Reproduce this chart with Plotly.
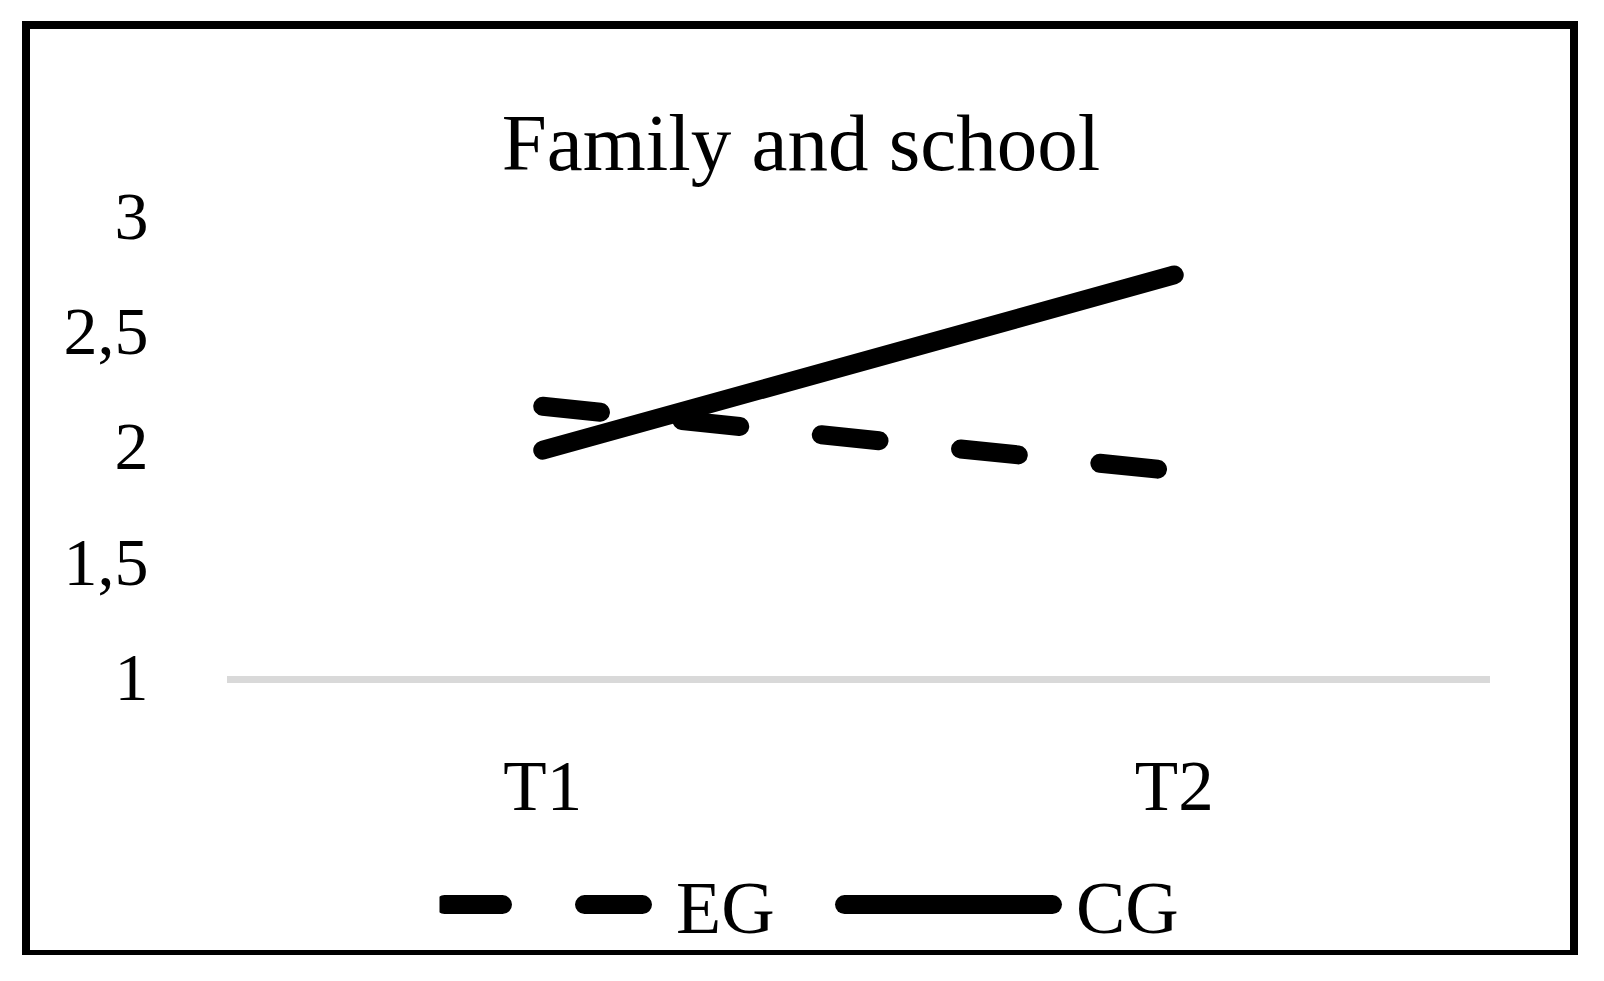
import plotly.graph_objects as go

categories = ["T1", "T2"]
eg_values = [2.17, 1.89]
cg_values = [1.98, 2.74]
y_tickvals = [1, 1.5, 2, 2.5, 3]
y_ticktext = ["1", "1,5", "2", "2,5", "3"]
title_text = "Family and school"
legend_names = ["EG", "CG"]

FONT = "Liberation Serif"
W, H = 1604, 981
L, R, T, B = 227, 1490, 215, 676  # plot area in pixels

def px(x):
    return (x - L) / (R - L)

def py(y):
    return (B - y) / (B - T)

LW = 19
NB = "\u00a0"
fig = go.Figure()
fig.add_trace(go.Scatter(
    x=[0, 1], y=eg_values, name=NB + legend_names[0], mode="lines",
    line=dict(color="black", width=LW, dash="58px,82px"),
))
fig.add_trace(go.Scatter(
    x=[0, 1], y=cg_values, name=NB + legend_names[1], mode="lines",
    line=dict(color="black", width=LW),
))

shapes = []
# outer frame
shapes.append(dict(type="line", xref="paper", yref="paper", x0=px(22), x1=px(1578), y0=py(25), y1=py(25), line=dict(color="black", width=8)))
shapes.append(dict(type="line", xref="paper", yref="paper", x0=px(26), x1=px(26), y0=py(21), y1=py(955), line=dict(color="black", width=8)))
shapes.append(dict(type="line", xref="paper", yref="paper", x0=px(1574), x1=px(1574), y0=py(21), y1=py(955), line=dict(color="black", width=8)))
shapes.append(dict(type="line", xref="paper", yref="paper", x0=px(22), x1=px(1578), y0=py(952.5), y1=py(952.5), line=dict(color="black", width=5)))

fig.update_layout(
    width=W, height=H,
    margin=dict(l=L, r=W - R, t=T, b=H - B, pad=0),
    paper_bgcolor="white", plot_bgcolor="white",
    font=dict(family=FONT, color="black"),
    title=dict(text=title_text, xref="container", x=801 / W, xanchor="center",
               yref="container", y=1 - 142 / H, yanchor="middle",
               font=dict(family=FONT, size=81, color="black")),
    showlegend=True,
    legend=dict(orientation="h", x=px(439.5), xanchor="left", y=py(905), yanchor="middle",
                font=dict(family=FONT, size=74, color="black"), itemwidth=208,
                entrywidth=177, entrywidthmode="pixels",
                bgcolor="rgba(0,0,0,0)"),
    shapes=shapes,
)
fig.update_xaxes(
    type="linear", range=[-0.5, 1.5], tickvals=[0, 1], ticktext=categories,
    showgrid=False, zeroline=False, showline=True, linecolor="#d9d9d9", linewidth=7,
    ticks="outside", ticklen=42, tickcolor="rgba(0,0,0,0)",
    tickfont=dict(family=FONT, size=71, color="black"), fixedrange=True,
)
fig.update_yaxes(
    range=[1, 3], tickvals=y_tickvals, ticktext=y_ticktext,
    showgrid=False, zeroline=False, showline=False,
    ticks="outside", ticklen=64, tickcolor="rgba(0,0,0,0)",
    tickfont=dict(family=FONT, size=68, color="black"), fixedrange=True,
)

post = """
document.body.style.margin='0';
document.body.style.overflow='hidden';
document.querySelectorAll('path.js-line').forEach(function(p){p.style.strokeLinecap='round';});
document.querySelectorAll('.legend path.js-line').forEach(function(p){p.style.strokeWidth='19px';});
"""
fig.write_html("out.html", post_script=post, config={"displayModeBar": False})
